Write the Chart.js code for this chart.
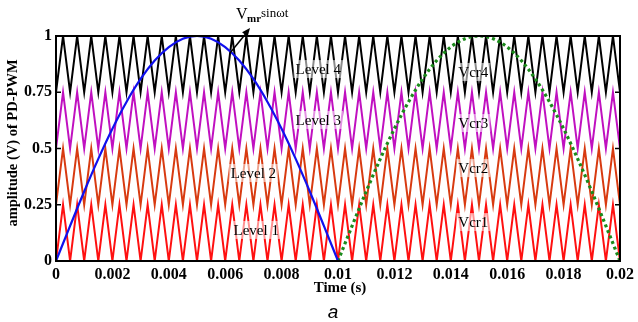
<!DOCTYPE html>
<html>
<head>
<meta charset="utf-8">
<script src="https://cdn.jsdelivr.net/npm/chart.js@4"></script>
<style>
  html, body { margin: 0; padding: 0; background: #fff; }
  #wrap { width: 638px; height: 322px; }
</style>
</head>
<body>
<div id="wrap"><canvas id="pwm" width="638" height="322"></canvas></div>
<script>
// carrier vertex times (s): trough, peak, trough ... 2 kHz carriers
const carrierTimes = [0, 0.00025, 0.0005, 0.00075, 0.001, 0.00125, 0.0015, 0.00175, 0.002, 0.00225,
  0.0025, 0.00275, 0.003, 0.00325, 0.0035, 0.00375, 0.004, 0.00425, 0.0045, 0.00475,
  0.005, 0.00525, 0.0055, 0.00575, 0.006, 0.00625, 0.0065, 0.00675, 0.007, 0.00725,
  0.0075, 0.00775, 0.008, 0.00825, 0.0085, 0.00875, 0.009, 0.00925, 0.0095, 0.00975,
  0.01, 0.01025, 0.0105, 0.01075, 0.011, 0.01125, 0.0115, 0.01175, 0.012, 0.01225,
  0.0125, 0.01275, 0.013, 0.01325, 0.0135, 0.01375, 0.014, 0.01425, 0.0145, 0.01475,
  0.015, 0.01525, 0.0155, 0.01575, 0.016, 0.01625, 0.0165, 0.01675, 0.017, 0.01725,
  0.0175, 0.01775, 0.018, 0.01825, 0.0185, 0.01875, 0.019, 0.01925, 0.0195, 0.01975, 0.02];
const bandLows = [0, 0.25, 0.5, 0.75];
const bandHighs = [0.25, 0.5, 0.75, 1];
const carrierColors = ['#ff1010', '#d83a10', '#c010c0', '#000000'];
const carrierNames = ['Vcr1', 'Vcr2', 'Vcr3', 'Vcr4'];

// reference signal
const sineTimesA = [0, 0.0005, 0.001, 0.0015, 0.002, 0.0025, 0.003, 0.0035, 0.004, 0.0045, 0.005,
  0.0055, 0.006, 0.0065, 0.007, 0.0075, 0.008, 0.0085, 0.009, 0.0095, 0.01];
const sineTimesB = [0.01, 0.0105, 0.011, 0.0115, 0.012, 0.0125, 0.013, 0.0135, 0.014, 0.0145, 0.015,
  0.0155, 0.016, 0.0165, 0.017, 0.0175, 0.018, 0.0185, 0.019, 0.0195, 0.02];
const sineValues = [0, 0.156, 0.309, 0.454, 0.588, 0.707, 0.809, 0.891, 0.951, 0.988, 1,
  0.988, 0.951, 0.891, 0.809, 0.707, 0.588, 0.454, 0.309, 0.156, 0];

const xTicks = [0, 0.002, 0.004, 0.006, 0.008, 0.01, 0.012, 0.014, 0.016, 0.018, 0.02];
const xTickLabels = ['0', '0.002', '0.004', '0.006', '0.008', '0.01', '0.012', '0.014', '0.016', '0.018', '0.02'];
const yTicks = [0, 0.25, 0.5, 0.75, 1];
const yTickLabels = ['0', '0.25', '0.5', '0.75', '1'];

const levelLabels = [
  { text: 'Level 1', t: 0.0071, v: 0.138 },
  { text: 'Level 2', t: 0.0070, v: 0.391 },
  { text: 'Level 3', t: 0.0093, v: 0.627 },
  { text: 'Level 4', t: 0.0093, v: 0.853 },
  { text: 'Vcr1', t: 0.0148, v: 0.173 },
  { text: 'Vcr2', t: 0.0148, v: 0.413 },
  { text: 'Vcr3', t: 0.0148, v: 0.613 },
  { text: 'Vcr4', t: 0.0148, v: 0.84 }
];

const SERIF = '"Liberation Serif", "DejaVu Serif", serif';

const datasets = [];
bandLows.forEach((lo, i) => {
  datasets.push({
    label: carrierNames[i],
    data: carrierTimes.map((t, k) => ({ x: t, y: k % 2 === 0 ? lo : bandHighs[i] })),
    borderColor: carrierColors[i],
    borderWidth: 2,
    pointRadius: 0,
    tension: 0,
    order: 5
  });
});
datasets.push({
  label: 'sine',
  data: sineTimesA.map((t, k) => ({ x: t, y: sineValues[k] })),
  borderColor: '#1010ee',
  borderWidth: 2.2,
  pointRadius: 0,
  cubicInterpolationMode: 'monotone',
  order: 1
});
datasets.push({
  label: 'sine2',
  data: sineTimesB.map((t, k) => ({ x: t, y: sineValues[k] })),
  borderColor: '#1a8a1a',
  borderWidth: 3.2,
  borderDash: [3, 3],
  pointRadius: 0,
  cubicInterpolationMode: 'monotone',
  order: 1
});

const decor = {
  id: 'decor',
  afterDatasetsDraw(chart) {
    const { ctx, chartArea: a, scales } = chart;
    const xs = scales.x, ys = scales.y;
    ctx.save();
    // text labels with faint white boxes
    ctx.font = '15px ' + SERIF;
    ctx.textBaseline = 'middle';
    ctx.textAlign = 'center';
    levelLabels.forEach(l => {
      const px = xs.getPixelForValue(l.t), py = ys.getPixelForValue(l.v);
      const w = ctx.measureText(l.text).width;
      ctx.fillStyle = 'rgba(255,255,255,0.55)';
      ctx.fillRect(px - w / 2 - 2, py - 9, w + 4, 18);
      ctx.fillStyle = '#000';
      ctx.fillText(l.text, px, py + 1);
    });
    // frame
    ctx.strokeStyle = '#000';
    ctx.lineWidth = 2;
    ctx.strokeRect(a.left, a.top, a.right - a.left, a.bottom - a.top);
    // inward ticks on right and left
    ctx.lineWidth = 1.5;
    yTicks.forEach(v => {
      const py = ys.getPixelForValue(v);
      ctx.beginPath();
      ctx.moveTo(a.right, py); ctx.lineTo(a.right - 5, py);
      ctx.moveTo(a.left, py); ctx.lineTo(a.left + 5, py);
      ctx.stroke();
    });
    // arrow annotation
    const ax0 = 230, ay0 = 53, ax1 = 250, ay1 = 28;
    ctx.lineWidth = 1.5;
    ctx.beginPath(); ctx.moveTo(ax0, ay0); ctx.lineTo(ax1 - 2, ay1 + 3); ctx.stroke();
    const ang = Math.atan2(ay1 - ay0, ax1 - ax0);
    ctx.fillStyle = '#000';
    ctx.beginPath();
    ctx.moveTo(ax1, ay1);
    ctx.lineTo(ax1 - 9 * Math.cos(ang - 0.4), ay1 - 9 * Math.sin(ang - 0.4));
    ctx.lineTo(ax1 - 9 * Math.cos(ang + 0.4), ay1 - 9 * Math.sin(ang + 0.4));
    ctx.closePath(); ctx.fill();
    // V_mr sin wt
    ctx.textAlign = 'left';
    ctx.textBaseline = 'alphabetic';
    ctx.font = '16px ' + SERIF;
    ctx.fillText('V', 236, 19);
    ctx.font = 'bold 11px ' + SERIF;
    ctx.fillText('mr', 247, 22);
    ctx.font = '13px ' + SERIF;
    ctx.fillText('sin\u03c9t', 261, 17);
    // axis titles
    ctx.font = 'bold 15px ' + SERIF;
    ctx.textAlign = 'center';
    ctx.fillText('Time (s)', 340, 292);
    ctx.save();
    ctx.translate(17, 143);
    ctx.rotate(-Math.PI / 2);
    ctx.font = 'bold 14.5px ' + SERIF;
    ctx.fillText('amplitude (V) of PD-PWM', 0, 0);
    ctx.restore();
    // caption
    ctx.font = 'italic 19px "Liberation Sans", Arial, sans-serif';
    ctx.fillText('a', 333, 318);
    ctx.restore();
  }
};

new Chart(document.getElementById('pwm'), {
  type: 'line',
  data: { datasets },
  options: {
    responsive: false,
    animation: false,
    layout: { padding: { top: 36, right: 15, left: 0, bottom: 0 } },
    plugins: { legend: { display: false }, tooltip: { enabled: false } },
    scales: {
      x: {
        type: 'linear',
        min: 0, max: 0.02,
        afterBuildTicks(s) { s.ticks = xTicks.map(v => ({ value: v })); },
        afterFit(s) { s.height = 61; },
        grid: { display: false, drawTicks: false },
        border: { display: false },
        ticks: {
          padding: 4,
          maxRotation: 0,
          autoSkip: false,
          color: '#000',
          font: { family: SERIF, size: 16, weight: 'bold' },
          callback: (v) => { const i = xTicks.indexOf(v); return i >= 0 ? xTickLabels[i] : ''; }
        }
      },
      y: {
        min: 0, max: 1,
        afterBuildTicks(s) { s.ticks = yTicks.map(v => ({ value: v })); },
        afterFit(s) { s.width = 56; },
        grid: { display: false, drawTicks: false },
        border: { display: false },
        ticks: {
          padding: 4,
          color: '#000',
          font: { family: SERIF, size: 16, weight: 'bold' },
          callback: (v) => { const i = yTicks.indexOf(v); return i >= 0 ? yTickLabels[i] : ''; }
        }
      }
    }
  },
  plugins: [decor]
});
</script>
</body>
</html>
